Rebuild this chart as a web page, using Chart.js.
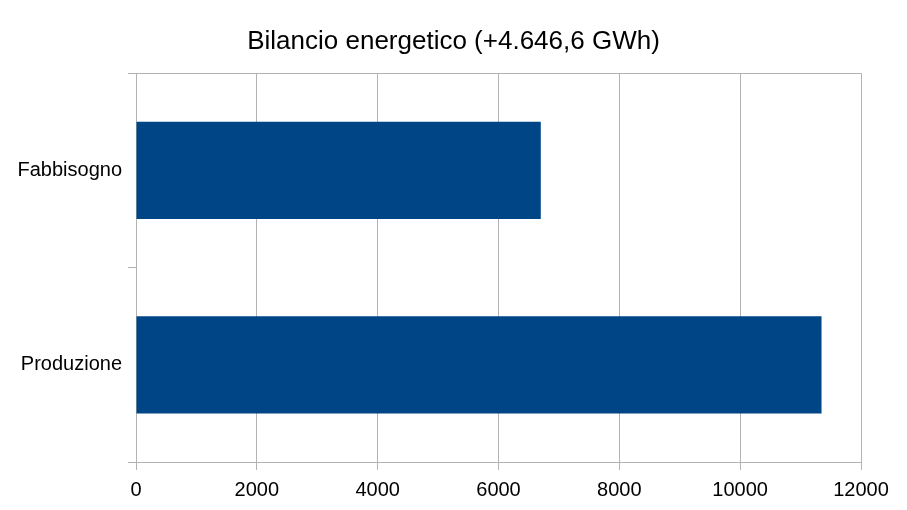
<!DOCTYPE html>
<html>
<head>
<meta charset="utf-8">
<script src="https://cdn.jsdelivr.net/npm/chart.js@4"></script>
<style>
  html, body { margin: 0; padding: 0; background: #fff; }
  #wrap { width: 907px; height: 510px; }
</style>
</head>
<body>
<div id="wrap"><canvas id="myChart"></canvas></div>
<script>
// dati
var titolo = 'Bilancio energetico (+4.646,6 GWh)';
var categorie = ['Fabbisogno', 'Produzione'];
var valori = [6700, 11346.6];
var asseMin = 0;
var asseMax = 12000;
var asseStep = 2000;

var grigio = '#b3b3b3';

const ctx = document.getElementById('myChart').getContext('2d');
const myChart = new Chart(ctx, {
    type: 'bar',
    data: {
        labels: categorie,
        datasets: [
            {
                label: 'GWh',
                data: valori,
                backgroundColor: '#004586',
                borderWidth: 0,
                barPercentage: 1,
                categoryPercentage: 0.5
            }
        ]
    },
    options: {
        indexAxis: 'y',
        responsive: true,
        maintainAspectRatio: false,
        animation: false,
        layout: {
            padding: { top: 26, right: 0, bottom: 0, left: 0 }
        },
        plugins: {
            title: {
                display: true,
                text: titolo,
                color: '#000',
                font: { family: 'Liberation Sans', size: 26, weight: 'normal' },
                padding: { top: 0, bottom: 16 }
            },
            legend: { display: false },
            tooltip: { enabled: false }
        },
        scales: {
            x: {
                min: asseMin,
                max: asseMax,
                ticks: {
                    stepSize: asseStep,
                    color: '#000',
                    padding: 8,
                    font: { family: 'Liberation Sans', size: 20 },
                    callback: function(value) {
                        return String(value);
                    }
                },
                grid: {
                    color: grigio,
                    tickColor: grigio,
                    tickLength: 8
                },
                border: { color: grigio },
                afterFit: function(scale) {
                    scale.paddingRight = 46;
                }
            },
            y: {
                ticks: {
                    color: '#000',
                    padding: 6,
                    font: { family: 'Liberation Sans', size: 20 }
                },
                grid: {
                    offset: true,
                    tickLength: 8,
                    tickColor: grigio,
                    color: function(c) {
                        // solo la linea in alto attraversa l'area del grafico
                        return c.index === 0 ? grigio : 'rgba(0,0,0,0)';
                    }
                },
                border: { color: grigio },
                afterFit: function(scale) {
                    scale.width = 136;
                }
            }
        }
    }
});
</script>
</body>
</html>
